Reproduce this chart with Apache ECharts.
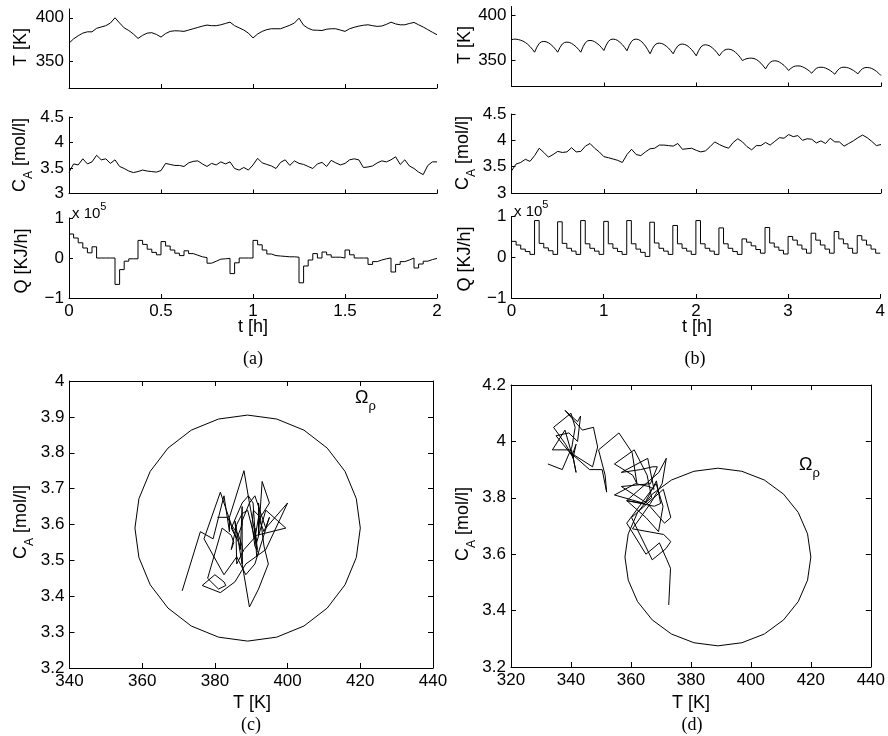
<!DOCTYPE html>
<html><head><meta charset="utf-8">
<script src="https://cdn.jsdelivr.net/npm/echarts@6/dist/echarts.min.js"></script>
<style>html,body{margin:0;padding:0;background:#fff}#c{width:888px;height:736px}</style>
</head><body><div id="c"></div>
<script>
// ---- data: panel (a), sampled every 0.025 h over 0..2 h ----
const dtA = 0.025;
const T_A = [371,376,379.5,382.5,384,384,388,389.5,391,394,
 400,394,388.5,385.5,381.5,376.5,380,382.5,383,381,
 378,382,384.5,385.2,385,384.5,386,387.5,389,390.5,
 391.7,391,391,392,393.5,395,391,388.5,386,382.5,
 377,381.5,384.5,386.5,387.5,387.5,387.5,389.5,391.5,394,
 399.5,391.5,388,386,385.8,385.5,387,387.5,387.5,386,
 384.5,387.5,389.2,390.5,391.5,392,391,390.2,390.6,392.5,
 395,393,392,392,393.5,394.7,392,389.5,386.5,383.5,
 380.7];
const CA_A = [3.415,3.58,3.56,3.68,3.58,3.62,3.75,3.66,3.68,3.59,
 3.66,3.53,3.49,3.44,3.41,3.43,3.46,3.44,3.43,3.42,
 3.45,3.59,3.57,3.55,3.55,3.53,3.6,3.63,3.64,3.58,
 3.53,3.59,3.56,3.62,3.58,3.62,3.49,3.46,3.51,3.46,
 3.56,3.69,3.6,3.57,3.54,3.49,3.61,3.66,3.55,3.64,
 3.59,3.57,3.53,3.49,3.58,3.61,3.53,3.65,3.6,3.56,
 3.59,3.66,3.68,3.66,3.51,3.52,3.54,3.6,3.64,3.62,
 3.66,3.72,3.57,3.66,3.54,3.49,3.42,3.37,3.55,3.62,
 3.62];
// Q in units of 1e5 kJ/h, held constant from each sample to the next
const Q_A = [0.6,0.5,0.38,0.25,0.13,0.28,0,0,0,0,
 -0.66,-0.29,-0.08,-0.02,-0.02,0.44,0.34,0.22,0.14,0.08,
 0.41,0.3,0.2,0.12,0.06,0.18,0.11,0.07,0.03,0.01,
 -0.13,-0.08,-0.03,-0.02,-0.01,-0.39,-0.12,0,0,0,
 0.44,0.33,0.2,0.1,0.06,0.05,0.04,0.03,0.03,0.02,
 -0.62,-0.2,-0.05,0.11,0,0.15,0.08,0.02,0.02,0,
 0.2,0.08,0,0,0,-0.16,-0.09,-0.05,-0.02,0,
 -0.35,-0.16,-0.09,-0.05,0,-0.25,-0.15,-0.08,-0.04,-0.01,
 -0.01];
// ---- data: panel (b): T every 0.025 h, CA and Q every 0.05 h over 0..4 h ----
const dtBT = 0.025, dtB = 0.05;
const T_B = [372.6,373.3,373.2,372.8,372.0,371.0,369.5,367.5,365.0,362.0,
 358.6,364.3,368.4,370.3,370.7,370.3,369.2,367.3,365.0,362.0,
 358.6,363.9,367.8,369.6,369.9,369.6,368.5,366.7,364.6,361.8,
 358.6,364.8,369.3,371.4,371.8,371.5,370.4,368.6,366.5,363.7,
 360.5,366.5,370.9,372.9,373.3,372.9,371.7,369.6,367.1,363.9,
 360.2,366.4,370.8,372.9,373.3,372.8,371.2,368.7,365.5,361.4,
 356.8,362.4,366.5,368.4,368.8,368.4,367.3,365.4,363.2,360.2,
 356.8,361.9,365.6,367.4,367.7,367.3,366.1,364.0,361.5,358.2,
 354.5,360.3,364.5,366.5,366.9,366.5,365.4,363.4,361.1,358.0,
 354.5,358.0,360.6,361.8,362.0,361.6,360.4,358.4,356.0,352.8,
 349.2,350.5,351.4,351.8,351.9,351.5,350.4,348.5,346.2,343.2,
 339.8,344.1,347.2,348.6,348.9,348.6,347.5,345.8,343.8,341.1,
 338.0,340.4,342.2,343.0,343.2,343.0,342.2,340.9,339.3,337.3,
 335.0,338.1,340.4,341.5,341.7,341.5,340.7,339.5,338.0,336.0,
 333.8,337.5,340.2,341.5,341.7,341.5,340.8,339.6,338.2,336.3,
 334.2,337.6,340.0,341.2,341.4,341.1,340.3,338.9,337.1,334.9,
 332.3];
const CA_B = [3.42,3.55,3.58,3.64,3.6,3.71,3.85,3.77,3.68,3.73,
 3.79,3.77,3.78,3.86,3.78,3.79,3.89,3.94,3.85,3.78,
 3.69,3.67,3.645,3.62,3.58,3.73,3.83,3.73,3.71,3.78,
 3.84,3.85,3.91,3.91,3.9,3.89,3.94,3.83,3.84,3.85,
 3.81,3.78,3.8,3.88,3.97,3.92,3.88,3.85,3.96,4.03,
 3.97,3.88,3.82,3.9,3.9,3.96,3.91,3.98,4.05,4.04,
 4.11,4.07,4.09,4.0,4.03,4.02,3.95,3.99,3.94,4.04,
 3.97,3.97,3.89,3.94,3.99,4.05,4.1,4.05,3.98,3.9,
 3.92];
const Q_B = [0.39,0.3,0.2,0.14,0.07, 0.9,0.34,0.23,0.16,0.07,
 0.87,0.34,0.22,0.15,0.07, 0.9,0.33,0.22,0.15,0.07,
 0.88,0.33,0.22,0.14,0.07, 0.9,0.33,0.2,0.12,0.02,
 0.86,0.35,0.22,0.15,0.07, 0.78,0.33,0.22,0.15,0.07,
 0.9,0.33,0.22,0.15,0.07, 0.72,0.33,0.22,0.14,0.07,
 0.45,0.37,0.28,0.19,0.1, 0.73,0.35,0.25,0.17,0.08,
 0.51,0.42,0.3,0.2,0.1, 0.59,0.42,0.3,0.2,0.1,
 0.63,0.45,0.33,0.22,0.1, 0.53,0.42,0.3,0.2,0.1,
 0.1];
// ---- stability region boundary Omega_rho (vertices) ----
const OMEGA_T  = [420,418.9,415.8,410.9,404.5,397.0,389,381.0,373.5,367.1,362.2,359.1,358,359.1,362.2,367.1,373.5,381.0,389,397.0,404.5,410.9,415.8,418.9,420];
const OMEGA_CA = [3.59,3.672,3.748,3.813,3.863,3.894,3.905,3.894,3.863,3.813,3.748,3.672,3.59,3.508,3.432,3.367,3.317,3.286,3.275,3.286,3.317,3.367,3.432,3.508,3.59];
// ---- tick labels ----
const T_TICKS = [350, 400];

const FONT = '"Liberation Sans", Arial, Helvetica, sans-serif';
const SERIF = '"Liberation Serif", "Times New Roman", serif';
const BLACK = '#000';
const fmtMinus = v => (v < 0 ? '\u2212' + Math.abs(v) : String(v));

const series = (arr, dt) => arr.map((v, i) => [+(i * dt).toFixed(4), v]);

function xAxisTS(grid, max, interval, labels) {
  return {type:'value', gridIndex:grid, min:0, max:max, interval:interval,
    axisLine:{show:true, onZero:false, lineStyle:{color:BLACK, width:1}},
    axisTick:{show:true, inside:true, length:4, lineStyle:{color:BLACK}},
    axisLabel:{show:labels, color:BLACK, fontFamily:FONT, fontSize:17, margin:5},
    splitLine:{show:false}};
}
function yAxisBase(grid, min, max, interval, extraLabel, extraTick, pos) {
  return {type:'value', gridIndex:grid, min:min, max:max, interval:interval, position:pos||'left',
    axisLine:{show:true, onZero:false, lineStyle:{color:BLACK, width:1}},
    axisTick:Object.assign({show:true, inside:true, length:4, lineStyle:{color:BLACK}}, extraTick||{}),
    axisLabel:Object.assign({show:true, color:BLACK, fontFamily:FONT, fontSize:17, margin:5}, extraLabel||{}),
    splitLine:{show:false}};
}
function boxX(grid, min, max, interval, pos, labels) {
  return {type:'value', gridIndex:grid, min:min, max:max, interval:interval, position:pos,
    axisLine:{show:true, onZero:false, lineStyle:{color:BLACK, width:1}},
    axisTick:{show:true, inside:true, length:5, lineStyle:{color:BLACK}},
    axisLabel:{show:labels, color:BLACK, fontFamily:FONT, fontSize:17, margin:5},
    splitLine:{show:false}};
}
function boxY(grid, min, max, interval, pos, labels) {
  return {type:'value', gridIndex:grid, min:min, max:max, interval:interval, position:pos,
    axisLine:{show:true, onZero:false, lineStyle:{color:BLACK, width:1}},
    axisTick:{show:true, inside:true, length:5, lineStyle:{color:BLACK}},
    axisLabel:{show:labels, color:BLACK, fontFamily:FONT, fontSize:17, margin:5},
    splitLine:{show:false}};
}

const tLab = {customValues:T_TICKS}, tTick = {customValues:T_TICKS};
const qLab = {formatter:fmtMinus};

const grids = [
  {left:69, top:9, width:368, height:79},
  {left:69, top:117, width:368, height:76.5},
  {left:69, top:218, width:368, height:80},
  {left:511.5, top:6.5, width:369.5, height:80},
  {left:511.5, top:114, width:369.5, height:79},
  {left:511.5, top:216.5, width:369.5, height:81.5},
  {left:69.5, top:381, width:363.5, height:287},
  {left:511, top:385, width:360, height:282}
];

const xAxes = [
  xAxisTS(0, 2, 0.5, false), xAxisTS(1, 2, 0.5, false), xAxisTS(2, 2, 0.5, true),
  xAxisTS(3, 4, 1, false), xAxisTS(4, 4, 1, false), xAxisTS(5, 4, 1, true),
  boxX(6, 340, 440, 20, 'bottom', true), boxX(6, 340, 440, 20, 'top', false),
  boxX(7, 320, 440, 20, 'bottom', true), boxX(7, 320, 440, 20, 'top', false)
];
const yAxes = [
  yAxisBase(0, 320, 410, 10, tLab, tTick),
  yAxisBase(1, 3, 4.5, 0.5),
  yAxisBase(2, -1, 1, 1, qLab),
  yAxisBase(3, 320, 410, 10, tLab, tTick),
  yAxisBase(4, 3, 4.5, 0.5),
  yAxisBase(5, -1, 1, 1, qLab),
  boxY(6, 3.2, 4, 0.1, 'left', true), boxY(6, 3.2, 4, 0.1, 'right', false),
  boxY(7, 3.2, 4.2, 0.2, 'left', true), boxY(7, 3.2, 4.2, 0.2, 'right', false)
];

const line = (xi, data, extra) => Object.assign({type:'line', xAxisIndex:xi, yAxisIndex:xi, data:data,
  showSymbol:false, symbol:'none', silent:true, animation:false,
  lineStyle:{color:BLACK, width:1}}, extra||{});

const omega = OMEGA_T.map((t, i) => [t, OMEGA_CA[i]]);
const phaseA = T_A.map((t, i) => [t, CA_A[i]]);
const phaseB = CA_B.map((c, j) => [T_B[Math.round(j * dtB / dtBT)], c]);

const seriesList = [
  line(0, series(T_A, dtA)),
  line(1, series(CA_A, dtA)),
  line(2, series(Q_A, dtA), {step:'end'}),
  line(3, series(T_B, dtBT)),
  line(4, series(CA_B, dtB)),
  line(5, series(Q_B, dtB), {step:'end'}),
  line(6, omega),
  line(6, phaseA),
  line(8, omega),
  line(8, phaseB)
];

function txt(x, y, text, opts) {
  opts = opts || {};
  return {type:'text', x:x, y:y, rotation:opts.rot||0, silent:true,
    style:Object.assign({text:text, fill:BLACK, fontFamily:opts.family||FONT, fontSize:opts.size||18,
      align:opts.align||'center', verticalAlign:'middle'}, opts.rich ? {rich:opts.rich} : {})};
}
const R90 = Math.PI / 2;
const caRich = {
  c:{fontFamily:FONT, fontSize:18, lineHeight:16, verticalAlign:'top', fill:BLACK},
  s:{fontFamily:FONT, fontSize:12, lineHeight:24, verticalAlign:'bottom', fill:BLACK}
};
const expRich = {
  n:{fontFamily:FONT, fontSize:15, lineHeight:20, verticalAlign:'bottom', fill:BLACK},
  p:{fontFamily:FONT, fontSize:11, lineHeight:10, verticalAlign:'top', fill:BLACK}
};
const omRich = {
  o:{fontFamily:FONT, fontSize:18, lineHeight:16, verticalAlign:'top', fill:BLACK},
  r:{fontFamily:FONT, fontSize:13, lineHeight:24, verticalAlign:'bottom', fill:BLACK}
};
const graphics = [
  txt(21, 47, 'T [K]', {rot:R90}),
  txt(465, 45, 'T [K]', {rot:R90}),
  txt(23, 155, '{c|C}{s|A}{c| [mol/l]}', {rot:R90, rich:caRich}),
  txt(466, 153, '{c|C}{s|A}{c| [mol/l]}', {rot:R90, rich:caRich}),
  txt(22, 261, 'Q [KJ/h]', {rot:R90}),
  txt(465, 259, 'Q [KJ/h]', {rot:R90}),
  txt(72, 211, '{n|x 10}{p|5}', {align:'left', rich:expRich}),
  txt(514, 209, '{n|x 10}{p|5}', {align:'left', rich:expRich}),
  txt(253, 327, 't [h]'),
  txt(697, 327, 't [h]'),
  txt(253, 359, '(a)', {family:SERIF, size:18}),
  txt(695, 359, '(b)', {family:SERIF, size:18}),
  txt(24, 522, '{c|C}{s|A}{c| [mol/l]}', {rot:R90, rich:caRich}),
  txt(466, 524, '{c|C}{s|A}{c| [mol/l]}', {rot:R90, rich:caRich}),
  txt(252, 703, 'T [K]'),
  txt(691, 703, 'T [K]'),
  txt(251, 725, '(c)', {family:SERIF, size:18}),
  txt(692, 725, '(d)', {family:SERIF, size:18}),
  txt(355, 401, '{o|\u03A9}{r|\u03C1}', {align:'left', rich:omRich}),
  txt(799, 468, '{o|\u03A9}{r|\u03C1}', {align:'left', rich:omRich})
];

const chart = echarts.init(document.getElementById('c'), null, {renderer:'canvas', width:888, height:736});
chart.setOption({
  backgroundColor:'#fff',
  animation:false,
  grid:grids,
  xAxis:xAxes,
  yAxis:yAxes,
  series:seriesList,
  graphic:{elements:graphics}
});
</script></body></html>
